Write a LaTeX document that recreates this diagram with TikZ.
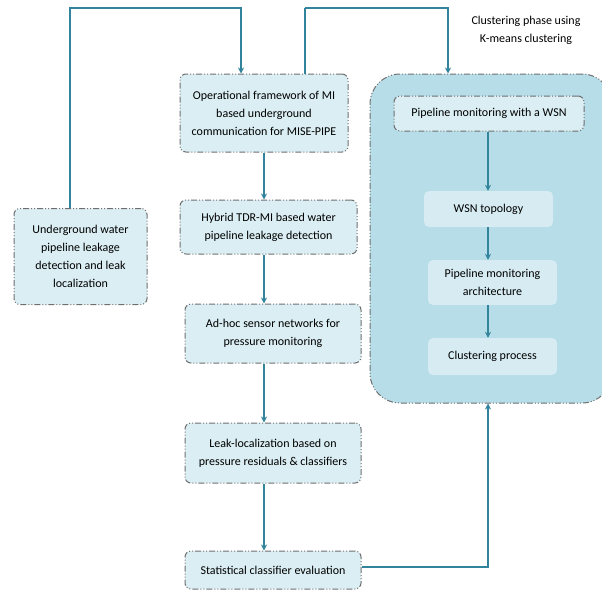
\documentclass[tikz,border=0pt]{standalone}
\usepackage{fontspec}
\setmainfont{Carlito}
\usetikzlibrary{arrows.meta}

\definecolor{flowline}{HTML}{31849B}
\definecolor{boxfill}{HTML}{DAEEF3}
\definecolor{phasefill}{HTML}{B7DDE8}
\definecolor{innerfill}{HTML}{D6EBF2}
\definecolor{boxedge}{HTML}{6F6F6F}

\tikzset{
  stagebox/.style={draw=boxedge, line width=1pt, fill=boxfill, rounded corners=6pt,
    dash pattern=on 6pt off 2pt on 1pt off 2pt on 1pt off 2pt,
    align=center, inner sep=0pt, font=\fontsize{12}{18}\selectfont},
  phasebox/.style={stagebox, fill=phasefill, rounded corners=30pt},
  stepbox/.style={fill=innerfill, rounded corners=5pt, align=center, inner sep=0pt,
    font=\fontsize{12}{18}\selectfont},
  flow/.style={draw=flowline, line width=1.8pt, -{Stealth[length=6pt,width=6pt]}},
  plain/.style={draw=flowline, line width=1.8pt}
}

\begin{document}
\begin{tikzpicture}[x=1pt, y=-1pt]
  \useasboundingbox (0,0) rectangle (602,592);

  % clustering phase
  \node[phasebox, minimum width=242pt, minimum height=329pt] (phase) at (491,238.5) {};
  \node[align=center, font=\fontsize{12}{18}\selectfont] (phasetitle) at (526,30)
    {Clustering phase using\\K-means clustering};

  \node[stagebox, minimum width=190pt, minimum height=35pt] (pmw) at (489,113.5)
    {Pipeline monitoring with a WSN};
  \node[stepbox, minimum width=129pt, minimum height=36pt] (topo) at (488.5,209)
    {WSN topology};
  \node[stepbox, minimum width=129pt, minimum height=45pt] (arch) at (492.5,282.5)
    {Pipeline monitoring\\architecture};
  \node[stepbox, minimum width=129pt, minimum height=37pt] (clus) at (492.5,356.5)
    {Clustering process};

  % main column
  \node[stagebox, minimum width=133pt, minimum height=96pt] (leak0) at (80.5,256.5)
    {Underground water\\pipeline leakage\\detection and leak\\localization};
  \node[stagebox, minimum width=168pt, minimum height=78pt] (opfw) at (264,113)
    {Operational framework of MI\\based underground\\communication for MISE-PIPE};
  \node[stagebox, minimum width=177pt, minimum height=54pt] (hybrid) at (268.5,227)
    {Hybrid TDR-MI based water\\pipeline leakage detection};
  \node[stagebox, minimum width=176pt, minimum height=59pt] (adhoc) at (273,333.5)
    {Ad-hoc sensor networks for\\pressure monitoring};
  \node[stagebox, minimum width=176pt, minimum height=60pt] (leakloc) at (273,453)
    {Leak-localization based on\\pressure residuals \& classifiers};
  \node[stagebox, minimum width=176pt, minimum height=38pt] (stat) at (273,570)
    {Statistical classifier evaluation};

  % connectors
  \coordinate (topleft) at (70,8);
  \coordinate (topright) at (305,8);
  \draw[flow] ([xshift=-10.5pt]leak0.north) -- (topleft) -| ([xshift=-23pt]opfw.north);
  \draw[plain] ([xshift=41pt]opfw.north) -- (topright);
  \draw[flow] (topright) -| ([xshift=-43pt]phase.north);
  \draw[flow] (opfw.south) -- (opfw.south |- hybrid.north);
  \draw[flow] (opfw.south |- hybrid.south) -- (opfw.south |- adhoc.north);
  \draw[flow] (opfw.south |- adhoc.south) -- (opfw.south |- leakloc.north);
  \draw[flow] (opfw.south |- leakloc.south) -- (opfw.south |- stat.north);
  \draw[flow] ([yshift=3pt]stat.east) -| ([xshift=-3pt]phase.south);
  \draw[flow] ([xshift=-1pt]pmw.south) -- ([xshift=-1pt]pmw.south |- topo.north);
  \draw[flow] ([xshift=-1pt]pmw.south |- topo.south) -- ([xshift=-1pt]pmw.south |- arch.north);
  \draw[flow] ([xshift=-1pt]pmw.south |- arch.south) -- ([xshift=-1pt]pmw.south |- clus.north);
\end{tikzpicture}
\end{document}
